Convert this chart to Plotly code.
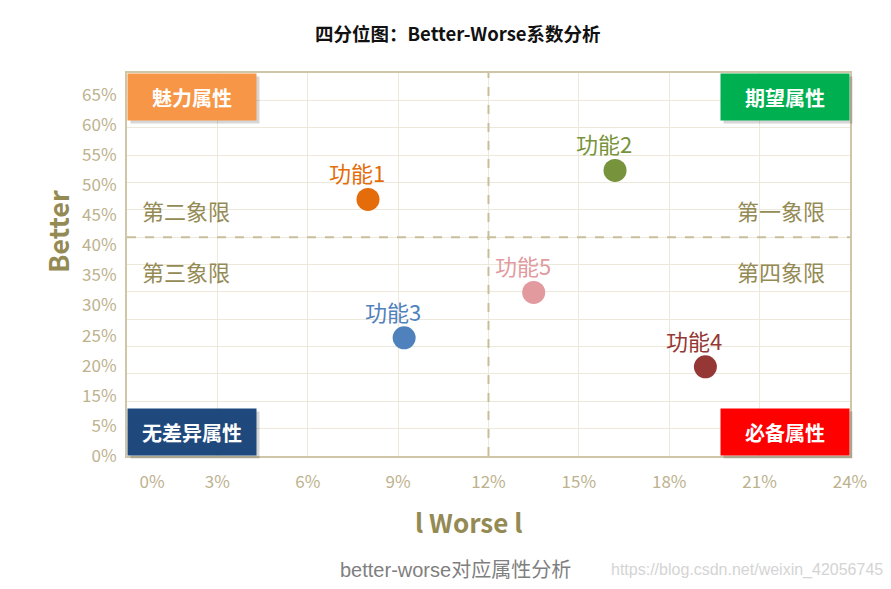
import plotly.graph_objects as go

# data
features = ["功能1", "功能2", "功能3", "功能4", "功能5"]
worse = [0.080, 0.162, 0.092, 0.192, 0.135]
better = [0.469, 0.522, 0.216, 0.163, 0.299]
point_colors = ["#E46C0A", "#77933C", "#4F81BD", "#953735", "#E29A9E"]

y_tick_text = ["0%", "5%", "15%", "20%", "25%", "30%", "35%", "40%",
               "45%", "50%", "55%", "60%", "65%"]
x_tick_text = ["0%", "3%", "6%", "9%", "12%", "15%", "18%", "21%", "24%"]
x_grid_vals = [0.03, 0.06, 0.09, 0.12, 0.15, 0.18, 0.21]
y_grid_vals = [0.05 * i for i in range(1, 14)]
# labels in the source sit slightly off the gridlines
x_tick_vals = [0.0083, 0.03, 0.06, 0.09, 0.12, 0.15, 0.18, 0.21, 0.24]
y_tick_vals = [0.055 * i for i in range(len(y_tick_text))]

worse_split = 0.12
better_split = 0.40

corner_boxes = [
    ("魅力属性", "#F79646", 0, 1, "left", "top"),
    ("期望属性", "#00B050", 1, 1, "right", "top"),
    ("无差异属性", "#1F497D", 0, 0, "left", "bottom"),
    ("必备属性", "#FF0000", 1, 0, "right", "bottom"),
]
quadrant_labels = [
    ("第二象限", 0.018, 0.449, "left"),
    ("第三象限", 0.018, 0.339, "left"),
    ("第一象限", 0.968, 0.449, "right"),
    ("第四象限", 0.968, 0.339, "right"),
]

FONT = "Noto Sans CJK SC"
OLIVE = "#948A54"
TAN = "#BDB28E"

fig = go.Figure()
fig.add_trace(go.Scatter(
    x=worse, y=better, mode="markers",
    marker=dict(size=23, color=point_colors),
    showlegend=False, cliponaxis=False,
))

# point names sit a little left of the markers
for name, wx, by, c in zip(features, worse, better, point_colors):
    fig.add_annotation(x=wx, y=by, text=name, xshift=-11, yshift=27, showarrow=False,
                       font=dict(family=FONT, size=22, color=c))

# dashed split lines
fig.add_shape(type="line", xref="x", yref="y domain", x0=worse_split, x1=worse_split,
              y0=0, y1=1, line=dict(color="#C9BE9C", width=2, dash="dash"))
fig.add_shape(type="line", xref="x domain", yref="y", x0=0, x1=1,
              y0=better_split, y1=better_split, line=dict(color="#C9BE9C", width=2, dash="dash"))

for text, color, xd, yd, xa, ya in corner_boxes:
    # shadow first, then the box
    fig.add_annotation(xref="x domain", yref="y domain", x=xd, y=yd, xanchor=xa, yanchor=ya,
                       text="", width=126, height=44, bgcolor="rgba(0,0,0,0.16)",
                       xshift=3, yshift=-3, showarrow=False)
    fig.add_annotation(xref="x domain", yref="y domain", x=xd, y=yd, xanchor=xa, yanchor=ya,
                       text="<b>%s</b>" % text, width=126, height=44, bgcolor=color,
                       font=dict(family=FONT, size=20, color="white"), showarrow=False)

for text, xd, yv, xa in quadrant_labels:
    fig.add_annotation(xref="x domain", yref="y", x=xd, y=yv, xanchor=xa,
                       text=text, font=dict(family=FONT, size=22, color=OLIVE),
                       showarrow=False)

# axis titles
fig.add_annotation(xref="x domain", yref="y domain", x=0.472, y=0, xanchor="center",
                   yanchor="middle", yshift=-65,
                   text="<b>l Worse l</b>", font=dict(family=FONT, size=26, color=OLIVE),
                   showarrow=False)
fig.add_annotation(xref="x domain", yref="y domain", x=-0.097, y=0.587, xanchor="center",
                   yanchor="middle", textangle=-90,
                   text="<b>Better</b>", font=dict(family=FONT, size=27, color=OLIVE),
                   showarrow=False)

# title, subtitle and watermark
fig.add_annotation(xref="x domain", yref="y domain", x=0.458, y=1, xanchor="center",
                   yanchor="middle", yshift=40,
                   text="<b>四分位图：Better-Worse系数分析</b>",
                   font=dict(family=FONT, size=18.5, color="#111111"), showarrow=False)
fig.add_annotation(xref="x domain", yref="y domain", x=0.455, y=0, xanchor="center",
                   yanchor="middle", yshift=-114,
                   text="better-worse对应属性分析",
                   font=dict(family="Liberation Sans, " + FONT, size=20, color="#7F7F7F"),
                   showarrow=False)
fig.add_annotation(xref="x domain", yref="y domain", x=1.048, xanchor="right", y=0,
                   yanchor="middle", yshift=-114,
                   text="https://blog.csdn.net/weixin_42056745",
                   font=dict(family="Liberation Sans", size=16, color="#D4D4D4"), showarrow=False)

fig.update_xaxes(
    range=[0, 0.24], tickvals=x_tick_vals, ticktext=x_tick_text,
    showgrid=False,
    minor=dict(tickvals=x_grid_vals, showgrid=True, gridcolor="#ECE8DA", gridwidth=1, ticks=""),
    showline=True, linecolor="#CFC6A8", linewidth=2, mirror=True,
    zeroline=False, ticks="", ticklen=0, ticklabelstandoff=10,
    tickfont=dict(family=FONT, size=17, color=TAN),
)
fig.update_yaxes(
    range=[0, 0.70], tickvals=y_tick_vals, ticktext=y_tick_text,
    showgrid=False,
    minor=dict(tickvals=y_grid_vals, showgrid=True, gridcolor="#ECE8DA", gridwidth=1, ticks=""),
    showline=True, linecolor="#CFC6A8", linewidth=2, mirror=True,
    zeroline=False, ticks="", ticklen=0, ticklabelstandoff=5,
    tickfont=dict(family=FONT, size=17, color=TAN),
)

# page has an 8px body margin, so the figure is sized to fill the rest
fig.update_layout(
    width=883, height=581,
    margin=dict(l=119, r=41, t=65, b=133),
    plot_bgcolor="white", paper_bgcolor="white",
    font=dict(family=FONT),
)

fig.write_html("out.html")
